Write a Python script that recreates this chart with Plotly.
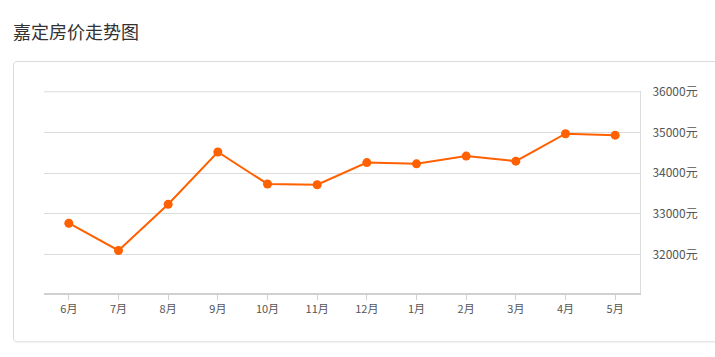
import plotly.graph_objects as go

months = ["6月", "7月", "8月", "9月", "10月", "11月", "12月", "1月", "2月", "3月", "4月", "5月"]
prices = [32770, 32100, 33235, 34520, 33735, 33715, 34260, 34230, 34420, 34295, 34970, 34935]
y_ticks = [32000, 33000, 34000, 35000, 36000]
title_text = "嘉定房价走势图"

W, H = 715, 357
L, R, T, B = 44, 640, 90.9, 292.7
pw, ph = R - L, B - T

def px(x):
    return (x - L) / pw

def py(y):
    return (B - y) / ph

fig = go.Figure()
fig.add_trace(go.Scatter(
    x=months, y=prices, mode="lines+markers",
    line=dict(color="#ff6000", width=2),
    marker=dict(color="#ff6000", size=9),
    hoverinfo="x+y",
))

# rounded box
bx0, bx1, by0, by1 = px(13.5), px(730), py(341.5), py(61.5)
rx, ry = 4 / pw, 4 / ph
path = (f"M {bx1},{by1} L {bx0+rx},{by1} Q {bx0},{by1} {bx0},{by1-ry} "
        f"L {bx0},{by0+ry} Q {bx0},{by0} {bx0+rx},{by0} L {bx1},{by0}")
fig.add_shape(type="path", path=path, xref="paper", yref="paper",
              line=dict(color="#d9d9d9", width=1), layer="below")

# top gridline (Plotly hides gridlines at the plot edge)
fig.add_shape(type="line", xref="paper", yref="y", x0=0, x1=1,
              y0=y_ticks[-1], y1=y_ticks[-1],
              line=dict(color="#dcdcdc", width=1), layer="below")

fig.update_layout(
    width=W, height=H,
    margin=dict(l=L, r=W - R, t=T, b=H - B, pad=0),
    paper_bgcolor="white", plot_bgcolor="white",
    showlegend=False,
    font=dict(family="Noto Sans CJK SC, Noto Sans, sans-serif", size=11, color="#555"),
    title=dict(text=title_text, x=13 / W, xanchor="left", y=1 - 33 / H, yanchor="middle",
               font=dict(size=18, color="#333", family="Noto Sans CJK SC, sans-serif")),
    xaxis=dict(
        type="category", range=[-0.5, 11.5],
        showline=True, linecolor="#d0d0d0", linewidth=2,
        ticks="outside", ticklen=5, tickcolor="#d0d0d0", tickwidth=1,
        showgrid=False, zeroline=False, fixedrange=True,
        tickfont=dict(size=11, color="#555"),
    ),
    yaxis=dict(
        side="right", range=[31055, 36020],
        tickvals=y_ticks, ticktext=[f"{v}元" for v in y_ticks],
        showgrid=True, gridcolor="#dcdcdc", gridwidth=1,
        showline=True, linecolor="#dcdcdc", linewidth=1,
        ticks="", ticklabelstandoff=9,
        zeroline=False, fixedrange=True,
        tickfont=dict(size=12, color="#555"),
    ),
)

fig.write_html("out.html")
